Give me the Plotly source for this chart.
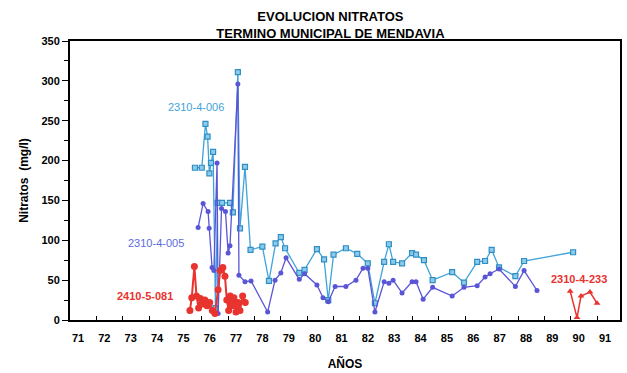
import plotly.graph_objects as go

# ---- data (years as 19xx decimal, nitrate mg/l) ----
s006_x = [75.74, 76.0, 76.14, 76.22, 76.29, 76.35, 76.43, 76.52, 76.6, 76.77, 77.07, 77.18,
          77.37, 77.45, 77.64, 77.85, 78.3, 78.55, 78.8, 79.0, 79.16, 79.7, 79.9, 80.37,
          80.64, 80.8, 81.0, 81.47, 81.9, 82.3, 82.57, 82.92, 83.1, 83.26, 83.6, 83.98,
          84.13, 84.43, 84.76, 85.5, 85.95, 86.45, 86.75, 87.0, 87.28, 87.9, 88.23, 90.09]
s006_y = [191, 191, 246, 230, 184, 197, 211, 15, 147, 147, 147, 135,
          311, 115, 192, 88, 92, 49, 96, 104, 90, 59, 63, 89,
          76, 25, 82, 90, 83, 71, 21, 73, 95, 73, 71, 84,
          82, 75, 50, 60, 47, 73, 74, 88, 66, 55, 74, 85]

s005_x = [75.86, 76.05, 76.24, 76.28, 76.39, 76.46, 76.58, 76.62, 76.75, 76.9, 77.0, 77.07,
          77.37, 77.41, 77.64, 77.87, 78.5, 78.78, 79.0, 79.2, 79.7, 79.9, 80.37, 80.6,
          80.8, 81.06, 81.47, 81.85, 82.12, 82.3, 82.57, 82.92, 83.1, 83.26, 83.6, 83.98,
          84.13, 84.4, 84.76, 85.5, 85.95, 86.45, 86.75, 86.94, 87.28, 87.9, 88.23, 88.72]
s005_y = [116, 146, 136, 115, 66, 62, 197, 8, 140, 136, 84, 93,
          296, 56, 48, 49, 10, 50, 59, 78, 51, 58, 44, 28,
          23, 42, 42, 50, 65, 65, 10, 48, 46, 50, 34, 48,
          48, 26, 41, 30, 41, 43, 54, 58, 64, 42, 62, 37]

s081_x = [75.55, 75.62, 75.72, 75.8, 75.88, 75.95, 76.05, 76.12, 76.2, 76.3, 76.4, 76.5,
          76.62, 76.7, 76.8, 76.88, 76.95, 77.02, 77.08, 77.15, 77.22, 77.3, 77.38, 77.45,
          77.55, 77.65]
s081_y = [12, 28, 67, 30, 15, 27, 20, 25, 18, 22, 12, 8,
          38, 62, 66, 55, 25, 12, 30, 18, 28, 10, 22, 12,
          30, 22]

s233_x = [89.98, 90.24, 90.39, 90.73, 91.0]
s233_y = [36, 3, 30, 35, 21]

x_ticks = list(range(71, 92))
y_ticks = list(range(0, 351, 50))

C006 = "#3fa3da"
C005 = "#5a55d6"
CRED = "#e8332f"

fig = go.Figure()
fig.add_trace(go.Scatter(x=s006_x, y=s006_y, mode="lines+markers",
                         line=dict(color=C006, width=1.3),
                         marker=dict(symbol="square", size=5, color="#8ccbea",
                                     line=dict(color="#2f8fc4", width=1.2)),
                         showlegend=False))
fig.add_trace(go.Scatter(x=s005_x, y=s005_y, mode="lines+markers",
                         line=dict(color=C005, width=1.3),
                         marker=dict(symbol="circle", size=5, color=C005),
                         showlegend=False))
fig.add_trace(go.Scatter(x=s081_x, y=s081_y, mode="lines+markers",
                         line=dict(color=CRED, width=2),
                         marker=dict(symbol="circle", size=7, color=CRED),
                         showlegend=False))
fig.add_trace(go.Scatter(x=s233_x, y=s233_y, mode="lines+markers",
                         line=dict(color=CRED, width=1.5),
                         marker=dict(symbol="triangle-up", size=6, color=CRED),
                         showlegend=False))

lab_font = dict(family="Liberation Sans", size=11)
fig.add_annotation(x=75.78, y=267, text="2310-4-006", showarrow=False,
                   font=dict(lab_font, color=C006))
fig.add_annotation(x=74.26, y=97, text="2310-4-005", showarrow=False,
                   font=dict(lab_font, color="#5b6be0"))
fig.add_annotation(x=73.85, y=30, text="<b>2410-5-081</b>", showarrow=False,
                   font=dict(lab_font, color=CRED))
fig.add_annotation(x=90.3, y=52, text="<b>2310-4-233</b>", showarrow=False,
                   font=dict(lab_font, color=CRED))

fig.update_layout(
    width=627, height=373,
    margin=dict(l=70, r=7, t=41, b=53),
    paper_bgcolor="white", plot_bgcolor="white",
    font=dict(family="Liberation Sans", color="black"),
    title=dict(text="<b>EVOLUCION NITRATOS<br>TERMINO MUNICIPAL DE MENDAVIA</b>",
               x=0.527, xanchor="center", y=0.944, yanchor="top",
               font=dict(size=13, family="Liberation Sans")),
)
fig.update_xaxes(range=[71, 91.87], tickvals=x_ticks, ticktext=[str(v) for v in x_ticks],
                 showgrid=False, zeroline=False, showline=True, linecolor="black",
                 linewidth=2, mirror=True, ticks="inside", ticklen=4, tickcolor="black",
                 ticklabelstandoff=7, ticklabelshift=8, automargin=False,
                 tickfont=dict(size=11, family="Liberation Sans", weight="bold"),
                 title=dict(text="<b>AÑOS</b>", font=dict(size=12), standoff=16))
fig.update_yaxes(range=[0, 350], tickvals=y_ticks, automargin=False,
                 showgrid=False, zeroline=False, showline=True, linecolor="black",
                 linewidth=2, mirror=True, ticks="outside", ticklen=6, tickcolor="black",
                 minor=dict(dtick=25, ticks="outside", ticklen=4, tickcolor="black"),
                 tickfont=dict(size=11, family="Liberation Sans", weight="bold"),
                 title=dict(text="<b>Nitratos  (mg/l)</b>", font=dict(size=12), standoff=10))

fig.write_html("out.html")
